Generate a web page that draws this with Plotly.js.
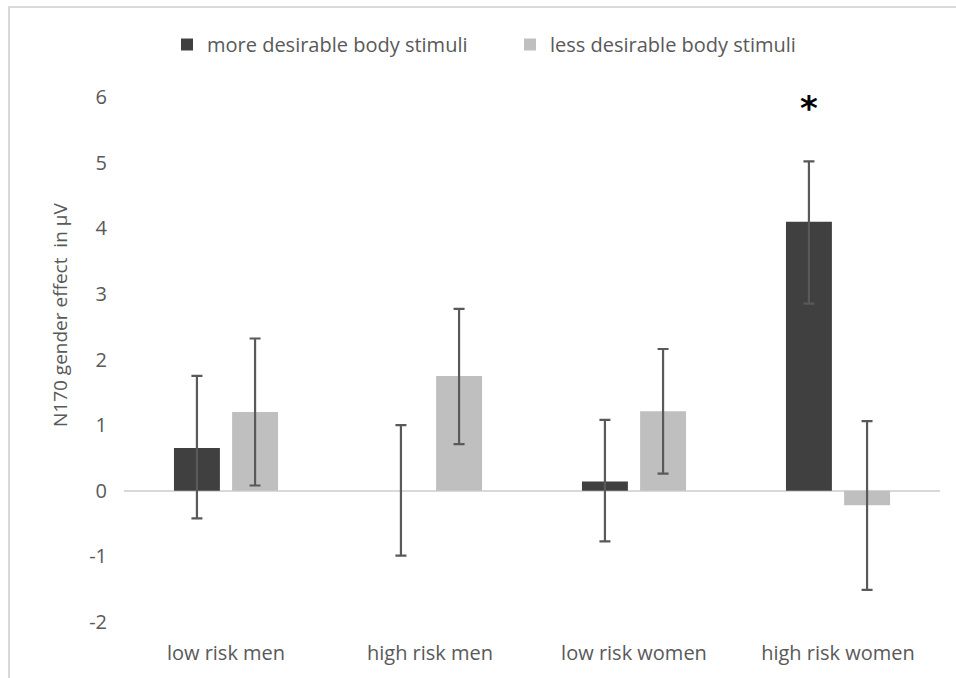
<!DOCTYPE html>
<html>
<head>
<meta charset="utf-8">
<script src="https://cdn.plot.ly/plotly-3.0.1.min.js"></script>
<style>
  html, body { margin: 0; padding: 0; background: #fff; }
  #frame { position: absolute; left: 8px; top: 6px; width: 960px; height: 680px;
           border-left: 2px solid #d9d9d9; border-top: 2px solid #d9d9d9; }
  #chart { position: absolute; left: 0; top: 0; width: 956px; height: 678px; }
</style>
</head>
<body>
<div id="frame"></div>
<div id="chart"></div>
<script>
const categories = ["low risk men", "high risk men", "low risk women", "high risk women"];
const moreDesirable = [0.65, 0.0, 0.14, 4.10];
const moreErrPlus = [1.10, 1.00, 0.94, 0.92];
const moreErrMinus = [1.07, 0.99, 0.91, 1.25];
const lessDesirable = [1.20, 1.75, 1.21, -0.22];
const lessErrPlus = [1.12, 1.02, 0.95, 1.28];
const lessErrMinus = [1.12, 1.04, 0.95, 1.29];
const seriesNames = ["more desirable body stimuli", "less desirable body stimuli"];
const yTicks = [-2, -1, 0, 1, 2, 3, 4, 5, 6];
const yTickLabels = ["-2", "-1", "0", "1", "2", "3", "4", "5", "6"];
const yTitle = "N170 gender effect  in μV";
const significance = {category: "high risk women", label: "*", y: 5.83};

const font = "'Open Sans', 'Noto Sans', sans-serif";
const textColor = "#595959";

const traces = [
  {
    type: "bar", name: seriesNames[0], x: categories, y: moreDesirable,
    marker: {color: "#404040"},
    error_y: {type: "data", symmetric: false, array: moreErrPlus, arrayminus: moreErrMinus,
              color: "#595959", thickness: 2.2, width: 5.5}
  },
  {
    type: "bar", name: seriesNames[1], x: categories, y: lessDesirable,
    marker: {color: "#bfbfbf"},
    error_y: {type: "data", symmetric: false, array: lessErrPlus, arrayminus: lessErrMinus,
              color: "#595959", thickness: 2.2, width: 5.5}
  }
];

const layout = {
  width: 956, height: 678,
  paper_bgcolor: "rgba(0,0,0,0)", plot_bgcolor: "rgba(0,0,0,0)",
  margin: {l: 124, r: 16, t: 97, b: 56},
  barmode: "group", bargap: 0.43, bargroupgap: 0.21,
  font: {family: font, color: textColor, size: 20},
  showlegend: true,
  legend: {orientation: "h", x: (167 - 124) / 816, xanchor: "left", y: 1.1, yanchor: "middle",
           font: {family: font, size: 20, color: textColor}, itemwidth: 30,
           entrywidth: 298, entrywidthmode: "pixels", traceorder: "normal"},
  xaxis: {
    showline: false, showgrid: false, zeroline: false, ticks: "",
    tickfont: {family: font, size: 20, color: textColor}, ticklabelstandoff: 17
  },
  yaxis: {
    range: [-2, 6], tickvals: yTicks, ticktext: yTickLabels, showgrid: false, showline: false, ticks: "",
    zeroline: true, zerolinecolor: "#d9d9d9", zerolinewidth: 2,
    tickfont: {family: font, size: 20, color: textColor}, ticklabelstandoff: 16
  },
  annotations: [
    {xref: "paper", yref: "paper", x: (60 - 124) / 816, y: (622 - 315) / 525,
     text: yTitle, textangle: -90, showarrow: false,
     font: {family: font, size: 19, color: textColor}, xanchor: "center", yanchor: "middle"},
    {x: significance.category, xshift: -29, y: significance.y, xref: "x", yref: "y",
     text: "<b>" + significance.label + "</b>", showarrow: false,
     font: {family: "'DejaVu Sans', sans-serif", size: 34, color: "#000"}, yanchor: "middle"}
  ]
};

Plotly.newPlot("chart", traces, layout, {displayModeBar: false, staticPlot: true});
</script>
</body>
</html>
